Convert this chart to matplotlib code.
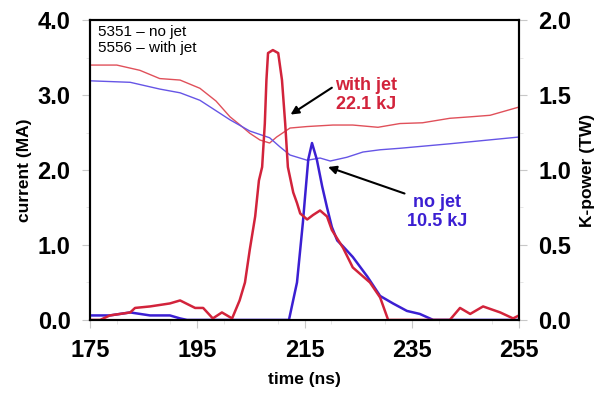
import matplotlib.pyplot as plt
from matplotlib.ticker import MultipleLocator

# current (MA), thin lines
t_cur_jet = [175, 180, 184.3, 188, 191.8, 195.5, 198.5, 201.1, 203.0, 204.8, 206.7, 208.5,
             209.8, 212.3, 215.5, 220.3, 224.0, 228.7, 232.8, 237.0, 242.1, 246.0, 249.6, 255]
cur_jet = [3.40, 3.40, 3.33, 3.22, 3.20, 3.09, 2.92, 2.71, 2.60, 2.49, 2.40, 2.36,
           2.44, 2.56, 2.58, 2.60, 2.60, 2.57, 2.62, 2.63, 2.69, 2.71, 2.73, 2.84]

t_cur_nojet = [175, 182.5, 188, 191.8, 195.5, 201.1, 204.8, 208.5, 210.4, 212.3, 215.5,
               217.9, 219.8, 222.9, 225.9, 229.1, 232.8, 242.1, 255]
cur_nojet = [3.19, 3.17, 3.08, 3.03, 2.93, 2.67, 2.52, 2.43, 2.31, 2.20, 2.13,
             2.16, 2.12, 2.17, 2.24, 2.27, 2.29, 2.35, 2.44]

# K-power (TW), thick lines
t_pow_jet = [175, 176.9, 178.7, 182.5, 183.4, 186.2, 189.9, 191.8, 194.6, 196.1, 197.9,
             199.6, 201.5, 202.9, 203.9, 204.8, 205.8, 206.5, 207.1, 207.6, 207.9, 208.2,
             209.1, 210.1, 210.8, 211.4, 211.9, 212.9, 213.6, 214.2, 215.5, 216.6, 217.9,
             219.2, 220.1, 222.2, 224.0, 227.2, 229.1, 230.6, 242.1, 244.0, 245.9, 248.3,
             251.5, 253.9, 255]
pow_jet = [0.0, 0.0, 0.03, 0.05, 0.08, 0.09, 0.11, 0.13, 0.08, 0.08, 0.01,
           0.05, 0.01, 0.13, 0.25, 0.47, 0.69, 0.93, 1.02, 1.31, 1.60, 1.78,
           1.80, 1.78, 1.60, 1.31, 1.02, 0.85, 0.78, 0.71, 0.67, 0.70, 0.73,
           0.69, 0.60, 0.48, 0.35, 0.25, 0.15, 0.0, 0.0, 0.08, 0.04, 0.09,
           0.05, 0.01, 0.03]

t_pow_nojet = [175, 178.7, 182.5, 186.2, 189.9, 191.8, 193.1, 212.1, 213.6, 214.7, 215.1,
               215.7, 216.4, 217.3, 218.3, 219.2, 220.1, 221.1, 222.2, 224.0, 226.7,
               229.1, 231.5, 234.1, 236.5, 239.0, 255]
pow_nojet = [0.03, 0.03, 0.05, 0.03, 0.03, 0.01, 0.0, 0.0, 0.25, 0.65, 0.82,
             1.07, 1.18, 1.07, 0.89, 0.75, 0.62, 0.53, 0.49, 0.42, 0.29,
             0.16, 0.11, 0.06, 0.04, 0.0, 0.0]

RED = '#d2233b'
BLUE = '#3b1fd2'
RED_THIN = '#e0505a'
BLUE_THIN = '#6655e6'

plt.rcParams['font.family'] = ['Liberation Sans', 'DejaVu Sans']

fig = plt.figure(figsize=(6, 3.94), dpi=100)
ax = fig.add_axes([0.15, 0.188, 0.715, 0.761])
ax2 = ax.twinx()

ax.plot(t_cur_jet, cur_jet, color=RED_THIN, lw=1.0)
ax.plot(t_cur_nojet, cur_nojet, color=BLUE_THIN, lw=1.0)
ax2.plot(t_pow_nojet, pow_nojet, color=BLUE, lw=1.8)
ax2.plot(t_pow_jet, pow_jet, color=RED, lw=1.8)

ax.set_xlim(175, 255)
ax.set_ylim(0, 4)
ax2.set_ylim(0, 2)
ax.set_xticks([175, 195, 215, 235, 255])
ax.xaxis.set_minor_locator(MultipleLocator(10))
ax.set_yticks([0, 1, 2, 3, 4])
ax.set_yticklabels(['0.0', '1.0', '2.0', '3.0', '4.0'])
ax.yaxis.set_minor_locator(MultipleLocator(0.5))
ax2.set_yticks([0, 0.5, 1.0, 1.5, 2.0])
ax2.set_yticklabels(['0.0', '0.5', '1.0', '1.5', '2.0'])
ax2.yaxis.set_minor_locator(MultipleLocator(0.25))

for a in (ax, ax2):
    a.tick_params(which='major', length=6, color='#c8c8c8', labelsize=17, pad=8)
    a.tick_params(which='minor', length=3, color='#e0e0e0')
    for lab in a.get_xticklabels() + a.get_yticklabels():
        lab.set_fontweight('bold')
    for s in a.spines.values():
        s.set_linewidth(1.5)

ax.set_xlabel('time (ns)', fontsize=12.5, fontweight='bold', labelpad=7)
ax.set_ylabel('current (MA)', fontsize=12.5, fontweight='bold', labelpad=4)
ax2.set_ylabel('K-power (TW)', fontsize=12.5, fontweight='bold', labelpad=6)

ax.text(0.019, 0.985, '5351 \u2013 no jet\n5556 \u2013 with jet', transform=ax.transAxes,
        fontsize=11, va='top', ha='left', linespacing=1.25)

ax2.annotate('with jet\n22.1 kJ', xy=(212.4, 1.37), xytext=(226.4, 1.50),
             color=RED, fontsize=13, fontweight='bold', ha='center', va='center',
             linespacing=1.2,
             arrowprops=dict(arrowstyle='-|>', color='black', lw=1.5,
                             shrinkA=0, shrinkB=0, mutation_scale=12,
                             relpos=(0.0, 0.75)))
ax2.annotate('no jet\n10.5 kJ', xy=(219.4, 1.02), xytext=(239.8, 0.72),
             color=BLUE, fontsize=13, fontweight='bold', ha='center', va='center',
             linespacing=1.2,
             arrowprops=dict(arrowstyle='-|>', color='black', lw=1.5,
                             shrinkA=0, shrinkB=0, mutation_scale=12,
                             relpos=(0.05, 0.95)))

fig.savefig('out.png', dpi=100)
